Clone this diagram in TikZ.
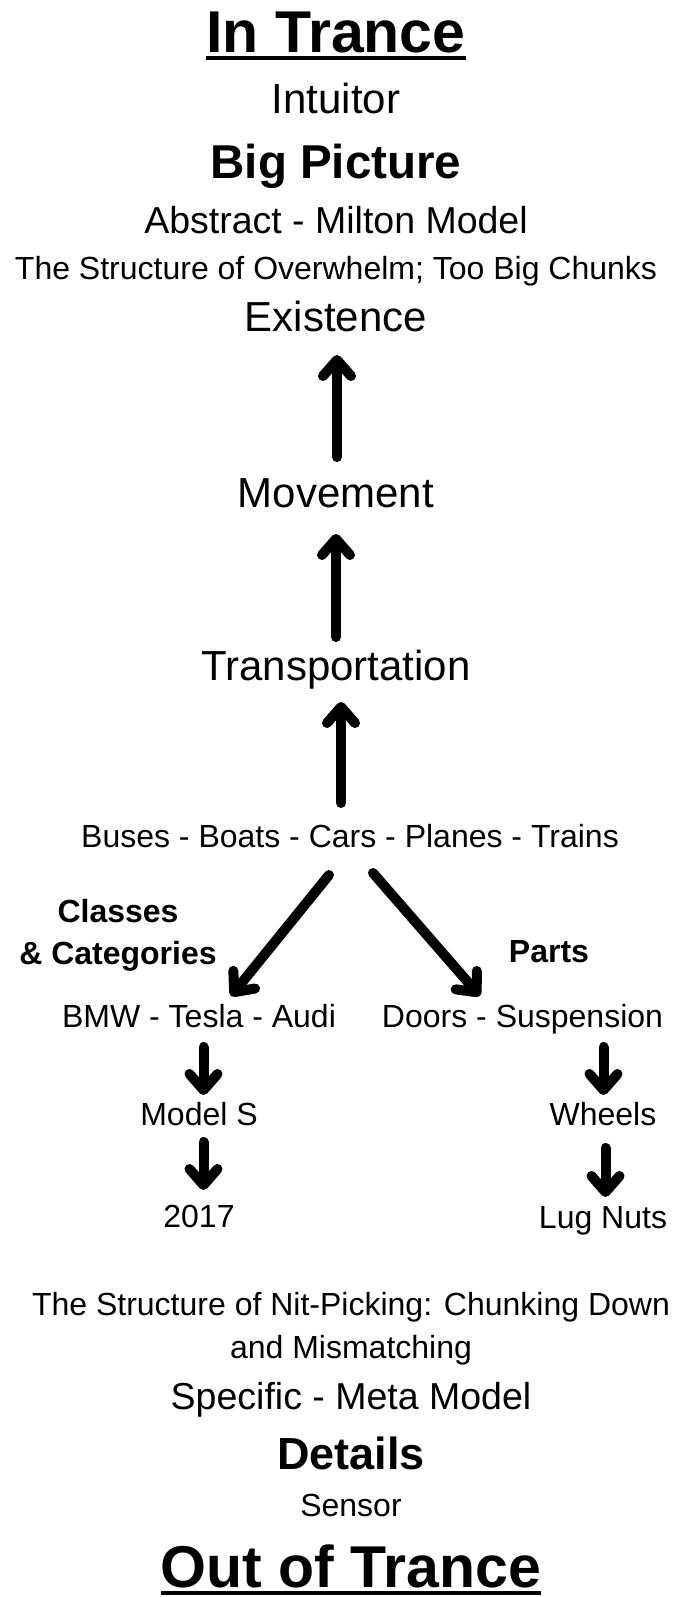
\documentclass[tikz,border=0pt]{standalone}
\usepackage{fontspec}
\setmainfont{Liberation Sans}
\usetikzlibrary{arrows.meta}
\tikzset{
  lbl/.style={inner sep=0pt, anchor=base},
  ttltxt/.style={lbl, font=\fontsize{59}{66}\selectfont\bfseries},
  bigtxt/.style={lbl, font=\fontsize{42}{50}\selectfont},
  midtxt/.style={lbl, font=\fontsize{37.5}{44}\selectfont},
  smltxt/.style={lbl, font=\fontsize{32}{42}\selectfont},
  arr/.style={line width=10pt, line cap=round, -{Straight Barb[length=16pt,width=28pt,round]}},
  uline/.style={line width=4.5pt}
}
\begin{document}
\begin{tikzpicture}[x=1pt, y=-1pt]
    \useasboundingbox (0,0) rectangle (679,1597);

    \node[ttltxt] (intrance) at (336, 53) {In Trance};
    \draw[uline] ([yshift=-5pt]intrance.base west) -- ([yshift=-5pt]intrance.base east);
    \node[bigtxt] (intuitor) at (336, 113.5) {Intuitor};
    \node[lbl, font=\fontsize{47.5}{54}\selectfont\bfseries] (bigpic) at (336, 178.5) {Big Picture};
    \node[midtxt] (abstract) at (336, 233.5) {Abstract - Milton Model};
    \node[smltxt] (overwhelm) at (336, 279.5) {The Structure of Overwhelm; Too Big Chunks};
    \node[bigtxt] (exist) at (336, 331.5) {Existence};
    \node[bigtxt] (move) at (336, 507) {Movement};
    \node[bigtxt] (transp) at (336, 680) {Transportation};
    \node[smltxt] (buses) at (350, 847) {Buses - Boats - Cars - Planes - Trains};

    \draw[arr] ([shift={(1,-50)}]move.base) -- ([shift={(1,23.5)}]exist.base);
    \draw[arr] ([shift={(0,-43)}]transp.base) -- ([shift={(0,27)}]move.base);
    \draw[arr] ([shift={(-9,-44)}]buses.base) -- ([shift={(5,22)}]transp.base);

    \node[smltxt, font=\fontsize{32}{42}\selectfont\bfseries, align=center, anchor=center] (classes) at (118, 935.7) {Classes\\\& Categories};
    \node[smltxt, font=\fontsize{32}{42}\selectfont\bfseries] (parts) at (549, 962) {Parts};

    \node[smltxt] (bmw) at (199, 1027) {BMW - Tesla - Audi};
    \node[smltxt] (doors) at (522.5, 1027) {Doors - Suspension};
    \node[smltxt] (models) at (199, 1125) {Model S};
    \node[smltxt] (wheels) at (603, 1125) {Wheels};
    \node[smltxt] (year) at (199, 1227) {2017};
    \node[smltxt] (lugnuts) at (603, 1228) {Lug Nuts};

    \draw[arr] ([shift={(-21,28)}]buses.base) -- ([shift={(32,-31)}]bmw.base);
    \draw[arr] ([shift={(23,26)}]buses.base) -- ([shift={(-42.5,-31)}]doors.base);
    \draw[arr] ([shift={(4.5,20)}]bmw.base) -- ([shift={(4.5,-30)}]models.base);
    \draw[arr] ([shift={(4.5,17)}]models.base) -- ([shift={(4.5,-37)}]year.base);
    \draw[arr] ([shift={(81,20)}]doors.base) -- ([shift={(0.5,-30)}]wheels.base);
    \draw[arr] ([shift={(2.5,23)}]wheels.base) -- ([shift={(2.5,-31)}]lugnuts.base);

    \node[smltxt, font=\fontsize{32}{43}\selectfont, align=center, anchor=center] (nitpick) at (351, 1329.2) {The Structure of Nit-Picking: Chunking Down\\and Mismatching};
    \node[midtxt] (specific) at (351, 1409) {Specific - Meta Model};
    \node[lbl, font=\fontsize{45}{52}\selectfont\bfseries] (details) at (351, 1469) {Details};
    \node[smltxt] (sensor) at (351, 1516) {Sensor};
    \node[ttltxt] (outtrance) at (351, 1587) {Out of Trance};
    \draw[uline] ([yshift=-6pt]outtrance.base west) -- ([yshift=-6pt]outtrance.base east);
\end{tikzpicture}
\end{document}
